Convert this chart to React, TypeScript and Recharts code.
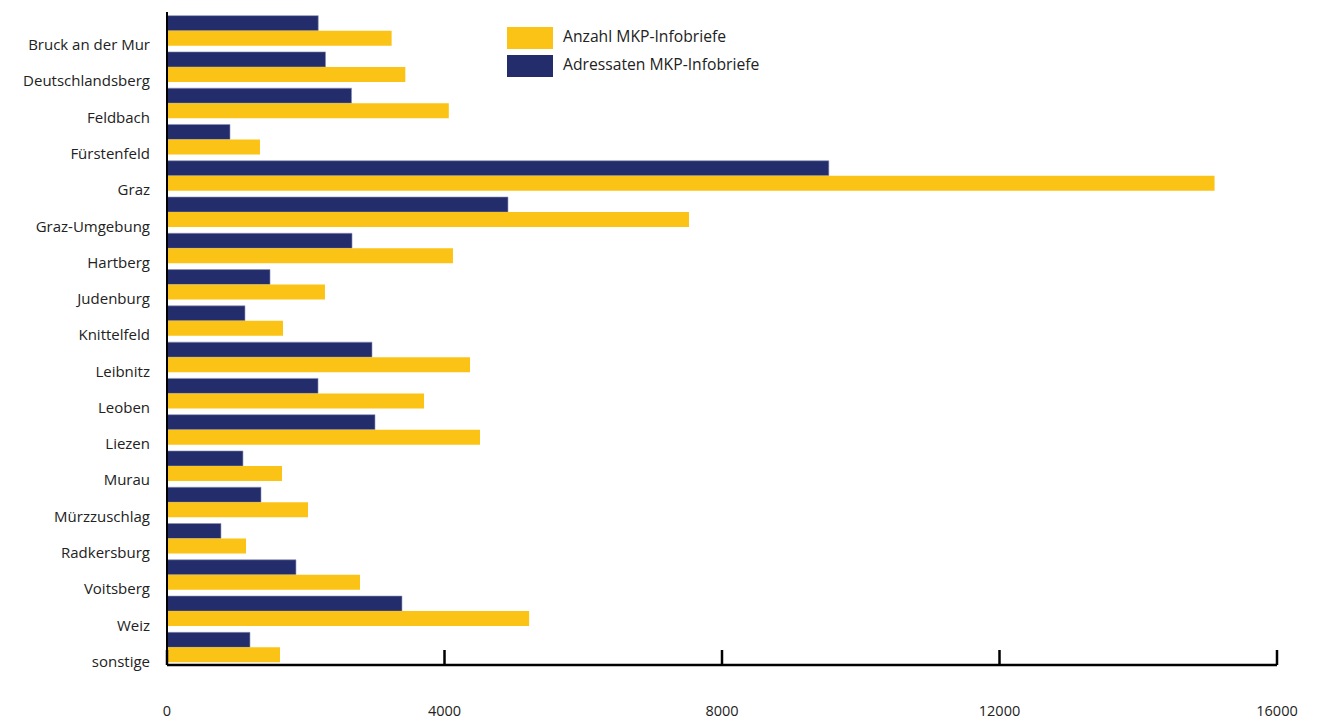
import { BarChart, Bar, XAxis, YAxis } from 'recharts';

const bezirke = [
  'Bruck an der Mur', 'Deutschlandsberg', 'Feldbach', 'Fürstenfeld', 'Graz', 'Graz-Umgebung',
  'Hartberg', 'Judenburg', 'Knittelfeld', 'Leibnitz', 'Leoben', 'Liezen', 'Murau',
  'Mürzzuschlag', 'Radkersburg', 'Voitsberg', 'Weiz', 'sonstige',
];
const adressaten = [2180, 2285, 2660, 908, 9540, 4915, 2667, 1485, 1124, 2955, 2177, 2998, 1095, 1355, 778, 1859, 3387, 1196];
const anzahl = [3238, 3435, 4062, 1340, 15100, 7524, 4122, 2277, 1672, 4368, 3705, 4512, 1658, 2032, 1139, 2782, 5220, 1629];
const xTicks = [0, 4000, 8000, 12000, 16000];

const data = bezirke.map((name, i) => ({ name, adressaten: adressaten[i], anzahl: anzahl[i] }));

const NAVY = '#232d6c';
const YELLOW = '#fbc315';
const FONT = '"Open Sans", sans-serif';

const CatTick = ({ x, y, payload }: any) => (
  <text x={x - 17} y={y + 15} dy={5} textAnchor="end" fontSize={15} fontFamily={FONT} fill="#222">
    {payload.value}
  </text>
);

const ValTick = ({ x, y, payload }: any) => (
  <g>
    <line x1={x} x2={x} y1={y - 15} y2={y} stroke="#000" strokeWidth={2.5} />
    <text x={x} y={y + 51} textAnchor="middle" fontSize={14.5} fontFamily={FONT} fill="#222">
      {payload.value}
    </text>
  </g>
);

const legendItems = [
  { label: 'Anzahl MKP-Infobriefe', color: YELLOW },
  { label: 'Adressaten MKP-Infobriefe', color: NAVY },
];

// legend sits over the plot, so keep it out of recharts' layout
const LegendBox = () => (
  <div style={{ position: 'absolute', left: 499, top: 17, fontFamily: FONT, fontSize: 15.7, color: '#222' }}>
    {legendItems.map((it) => (
      <div key={it.label} style={{ display: 'flex', alignItems: 'center', height: 26, marginBottom: 2 }}>
        <div style={{ width: 46, height: 22, background: it.color, marginRight: 10 }} />
        <span style={{ position: 'relative', top: -2 }}>{it.label}</span>
      </div>
    ))}
  </div>
);

export default function App() {
  return (
    <div style={{ position: 'relative', width: 1316, height: 711 }}>
      <BarChart
        width={1316}
        height={711}
        data={data}
        layout="vertical"
        margin={{ top: 4, right: 47, bottom: 0, left: 0 }}
        barCategoryGap="10%"
        barGap={0}
      >
        <XAxis
          type="number"
          domain={[0, 16000]}
          ticks={xTicks}
          height={54}
          tickSize={0}
          tickMargin={0}
          tickLine={false}
          tick={<ValTick />}
          axisLine={{ stroke: '#000', strokeWidth: 2.5 }}
          interval={0}
        />
        <YAxis
          type="category"
          dataKey="name"
          width={159}
          tickSize={0}
          tickMargin={0}
          tickLine={false}
          tick={<CatTick />}
          axisLine={{ stroke: '#000', strokeWidth: 2 }}
          interval={0}
        />
        <Bar dataKey="adressaten" fill={NAVY} stroke="#8a90b4" strokeWidth={0.6} isAnimationActive={false} />
        <Bar dataKey="anzahl" fill={YELLOW} isAnimationActive={false} />
      </BarChart>
      <LegendBox />
    </div>
  );
}
